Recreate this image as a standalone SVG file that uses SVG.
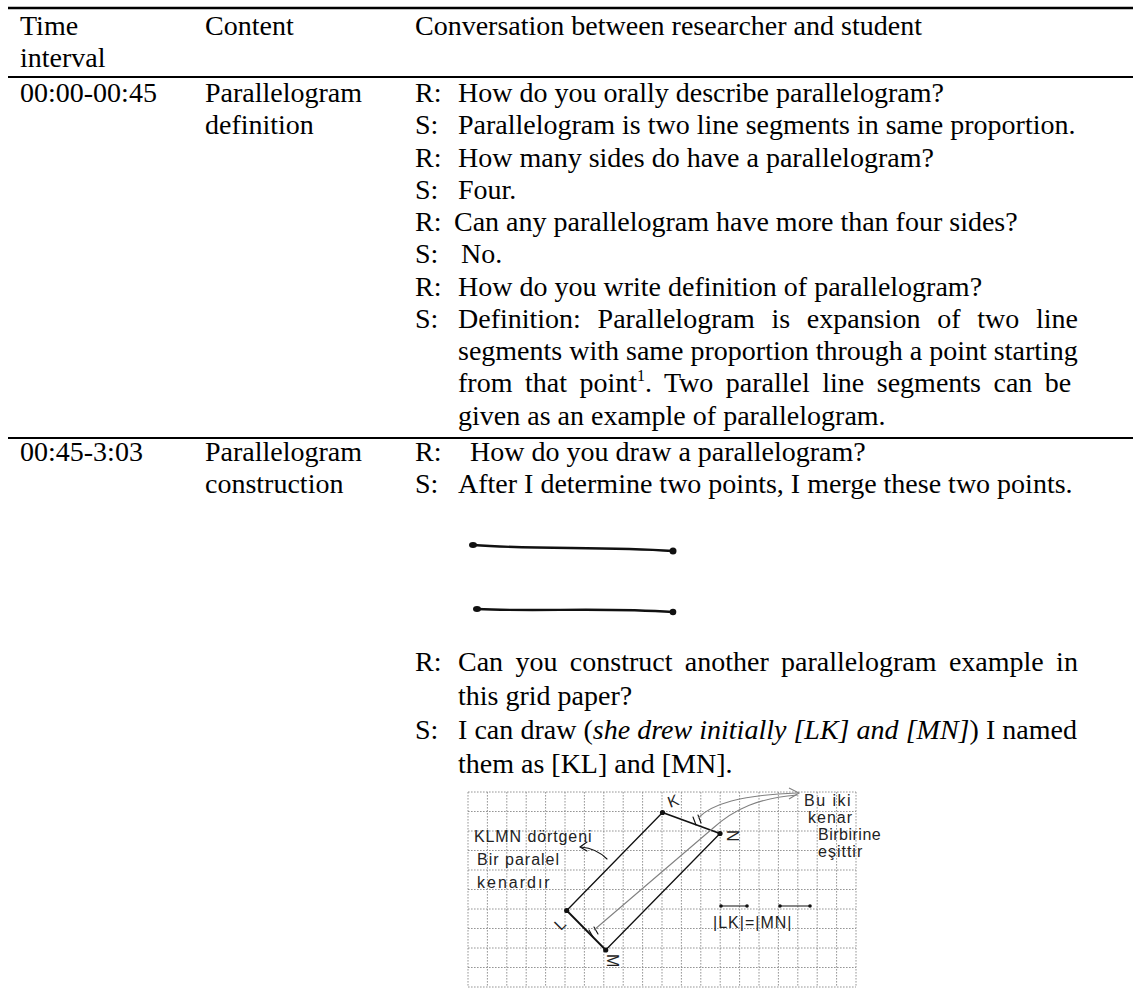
<svg xmlns="http://www.w3.org/2000/svg" width="1133" height="989" viewBox="0 0 1133 989">
<style>
.t{font-family:"Liberation Serif","Times New Roman",serif;font-size:28px;fill:#000}
.i{font-style:italic}
.rule{stroke:#000;stroke-width:2}
.grid line{stroke:#8a8a8a;stroke-width:0.9;stroke-dasharray:1.6 1.4}
.hand{font-family:"Liberation Sans",Arial,sans-serif;font-size:16px;fill:#222}
.ink{stroke:#111;fill:none;stroke-linecap:round}
.gray{stroke:#808080;fill:none;stroke-width:1.1}
</style>
<rect width="1133" height="989" fill="#fff"/>
<g id="rules">
<line class="rule" x1="8" y1="8" x2="1133" y2="8" style="stroke-width:2.5"/>
<line class="rule" x1="8" y1="77" x2="1133" y2="77"/>
<line class="rule" x1="8" y1="438" x2="1133" y2="438"/>
</g>
<g id="header">
<text class="t" x="20" y="35">Time</text>
<text class="t" x="20" y="67">interval</text>
<text class="t" x="205" y="35">Content</text>
<text class="t" x="415" y="35">Conversation between researcher and student</text>
</g>
<g id="row1">
<text class="t" x="20" y="102">00:00-00:45</text>
<text class="t" x="205" y="102">Parallelogram</text>
<text class="t" x="205" y="134">definition</text>
<text class="t" x="415" y="102">R:</text><text class="t" x="458" y="102">How do you orally describe parallelogram?</text>
<text class="t" x="415" y="134">S:</text><text class="t" x="458" y="134">Parallelogram is two line segments in same proportion.</text>
<text class="t" x="415" y="166.5">R:</text><text class="t" x="458" y="166.5">How many sides do have a parallelogram?</text>
<text class="t" x="415" y="198.7">S:</text><text class="t" x="458" y="198.7">Four.</text>
<text class="t" x="415" y="231">R:</text><text class="t" x="454" y="231">Can any parallelogram have more than four sides?</text>
<text class="t" x="415" y="263.2">S:</text><text class="t" x="461" y="263.2">No.</text>
<text class="t" x="415" y="295.5">R:</text><text class="t" x="458" y="295.5">How do you write definition of parallelogram?</text>
<text class="t" x="415" y="327.7">S:</text><text class="t" x="458" y="327.7" word-spacing="9.75">Definition: Parallelogram is expansion of two line</text>
<text class="t" x="458" y="360" word-spacing="0">segments with same proportion through a point starting</text>
<text class="t" x="458" y="392.2" word-spacing="5.5">from that point<tspan font-size="16" dy="-11">1</tspan><tspan dy="11">. Two parallel line segments can be</tspan></text>
<text class="t" x="458" y="424.5">given as an example of parallelogram.</text>
</g>
<g id="row2">
<text class="t" x="20" y="461">00:45-3:03</text>
<text class="t" x="205" y="461">Parallelogram</text>
<text class="t" x="205" y="493">construction</text>
<text class="t" x="415" y="461">R:</text><text class="t" x="470" y="461">How do you draw a parallelogram?</text>
<text class="t" x="415" y="493">S:</text><text class="t" x="458" y="493">After I determine two points, I merge these two points.</text>
<text class="t" x="415" y="671">R:</text><text class="t" x="458" y="671" word-spacing="5.35">Can you construct another parallelogram example in</text>
<text class="t" x="458" y="705">this grid paper?</text>
<text class="t" x="415" y="739">S:</text><text class="t" x="458" y="739" word-spacing="0.1">I can draw (<tspan class="i">she drew initially [LK] and [MN]</tspan>) I named</text>
<text class="t" x="458" y="773">them as [KL] and [MN].</text>
</g>
<g id="figure-two-segments">
<path class="ink" d="M473 545 C540 550 600 546 673 551" stroke-width="2.4"/>
<ellipse cx="473" cy="545" rx="4" ry="3" fill="#111"/>
<circle cx="673" cy="551" r="3.5" fill="#111"/>
<path class="ink" d="M477 609 C540 612 600 607 673 612" stroke-width="2.4"/>
<ellipse cx="477" cy="609" rx="4" ry="3" fill="#111"/>
<circle cx="673" cy="612" r="3.3" fill="#111"/>
</g>
<g id="figure-grid">
<g class="grid">
<line x1="468" y1="792" x2="468" y2="987"/><line x1="487.4" y1="792" x2="487.4" y2="987"/><line x1="506.8" y1="792" x2="506.8" y2="987"/><line x1="526.2" y1="792" x2="526.2" y2="987"/><line x1="545.6" y1="792" x2="545.6" y2="987"/><line x1="565" y1="792" x2="565" y2="987"/><line x1="584.4" y1="792" x2="584.4" y2="987"/><line x1="603.8" y1="792" x2="603.8" y2="987"/><line x1="623.2" y1="792" x2="623.2" y2="987"/><line x1="642.6" y1="792" x2="642.6" y2="987"/><line x1="662" y1="792" x2="662" y2="987"/><line x1="681.4" y1="792" x2="681.4" y2="987"/><line x1="700.8" y1="792" x2="700.8" y2="987"/><line x1="720.2" y1="792" x2="720.2" y2="987"/><line x1="739.6" y1="792" x2="739.6" y2="987"/><line x1="759" y1="792" x2="759" y2="987"/><line x1="778.4" y1="792" x2="778.4" y2="987"/><line x1="797.8" y1="792" x2="797.8" y2="987"/><line x1="817.2" y1="792" x2="817.2" y2="987"/><line x1="836.6" y1="792" x2="836.6" y2="987"/><line x1="856" y1="792" x2="856" y2="987"/>
<line x1="468" y1="792" x2="856" y2="792"/><line x1="468" y1="811.5" x2="856" y2="811.5"/><line x1="468" y1="831" x2="856" y2="831"/><line x1="468" y1="850.5" x2="856" y2="850.5"/><line x1="468" y1="870" x2="856" y2="870"/><line x1="468" y1="889.5" x2="856" y2="889.5"/><line x1="468" y1="909" x2="856" y2="909"/><line x1="468" y1="928.5" x2="856" y2="928.5"/><line x1="468" y1="948" x2="856" y2="948"/><line x1="468" y1="967.5" x2="856" y2="967.5"/><line x1="468" y1="987" x2="856" y2="987"/>
</g>
<g id="parallelogram">
<line class="ink" x1="662.5" y1="812.5" x2="566.7" y2="910.5" stroke-width="1.3"/>
<line class="ink" x1="720" y1="833.5" x2="605.7" y2="950" stroke-width="1.3"/>
<line class="ink" x1="662.5" y1="812.5" x2="720" y2="833.5" stroke-width="1.8"/>
<line class="ink" x1="566.7" y1="910.5" x2="605.7" y2="950" stroke-width="1.8"/>
<circle cx="662.5" cy="812.5" r="2.6" fill="#111"/>
<circle cx="720" cy="833.5" r="2.6" fill="#111"/>
<circle cx="566.7" cy="910.5" r="2.6" fill="#111"/>
<circle cx="605.7" cy="950" r="2.6" fill="#111"/>
<path class="ink" d="M693 817 L696 825 M698 815 L701 823" stroke-width="1.1"/>
<path class="ink" d="M589 930 L593 937 M594 927 L598 934" stroke-width="1.1"/>
<text class="hand" x="668" y="807" font-size="17" transform="rotate(-20 672 802)">K</text>
<text class="hand" x="727" y="842" font-size="17" transform="rotate(90 733 836)">N</text>
<text class="hand" x="554" y="929" font-size="17" transform="rotate(-45 560 922)">L</text>
<text class="hand" x="607" y="966" font-size="17" transform="rotate(90 613 960)">M</text>
</g>
<g id="connectors">
<path class="gray" d="M594 930 L712 829 C735 808 760 798 797 795"/>
<path class="gray" d="M698 818 C712 804 740 795 797 793"/>
<path class="gray" d="M789 788 L799 793 L789 799"/>
<path class="ink" d="M607 859 C600 852 592 848 581 847" stroke-width="1.1"/>
<path class="ink" d="M587 842 L580 847 L587 851" stroke-width="1.1"/>
</g>
<g id="notes">
<text class="hand" x="474" y="842" font-size="17" letter-spacing="0.9">KLMN dörtgeni</text>
<text class="hand" x="477" y="865" font-size="17" letter-spacing="1">Bir paralel</text>
<text class="hand" x="477" y="888" font-size="17" letter-spacing="2">kenardır</text>
<text class="hand" x="804" y="806" font-size="16" letter-spacing="1.5">Bu iki</text>
<text class="hand" x="808" y="823" font-size="16" letter-spacing="1">kenar</text>
<text class="hand" x="818" y="840" font-size="16" letter-spacing="0.5">Birbirine</text>
<text class="hand" x="818" y="857" font-size="16" letter-spacing="1">eşittir</text>
<text class="hand" x="713" y="928" font-size="22" letter-spacing="1">|LK|=|MN|</text>
<path class="ink" d="M721 906 L747 906 M780 906 L810 906" stroke-width="1.2"/>
<circle cx="721" cy="906" r="1.8" fill="#111"/><circle cx="747" cy="906" r="1.8" fill="#111"/>
<circle cx="780" cy="906" r="1.8" fill="#111"/><circle cx="810" cy="906" r="1.8" fill="#111"/>
</g>
</g>
</svg>
